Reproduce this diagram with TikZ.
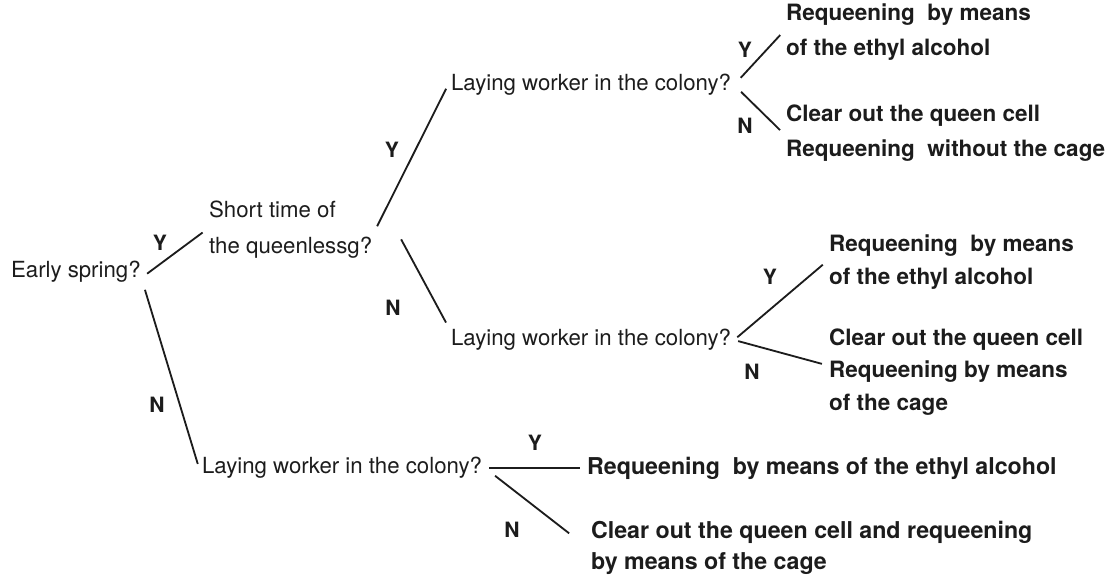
\documentclass[tikz,border=0pt]{standalone}
\usepackage{fontspec}
\setmainfont{TeX Gyre Heros}
\usetikzlibrary{positioning}

\definecolor{ink}{HTML}{1C1C1C}

\tikzset{
  ask/.style={anchor=west, inner sep=2pt, text=ink, align=left, font=\fontsize{15.8}{25.5}\selectfont},
  act/.style={anchor=west, inner sep=2pt, text=ink, align=left, font=\bfseries\fontsize{16}{23}\selectfont},
  act wide/.style={act, font=\bfseries\fontsize{16}{24.5}\selectfont},
  act low/.style={act, font=\bfseries\fontsize{16.5}{22.5}\selectfont},
  yn/.style={text=ink, font=\bfseries\fontsize{15}{18}\selectfont},
  branch/.style={draw=ink, line width=1.3pt, shorten <=3pt, shorten >=3pt}
}

\begin{document}
\begin{tikzpicture}[x=0.025cm, y=-0.025cm]
            \useasboundingbox (0,0) rectangle (1108,576);

            % questions
            \node[ask] (spring) at (8,272) {Early spring?};
            \node[ask] (short) at (206,230) {Short time of\\the queenlessg?};
            \node[ask] (lay1) at (448,85) {Laying worker in the colony?};
            \node[ask] (lay2) at (448,340) {Laying worker in the colony?};
            \node[ask] (lay3) at (199,468) {Laying worker in the colony?};

            % what to do
            \node[act wide] (out1) at (783,32) {Requeening\ \ by means\\of the ethyl alcohol};
            \node[act wide] (out2) at (783,133) {Clear out the queen cell\\Requeening\ \ without the cage};
            \node[act] (out3) at (826,262) {Requeening\ \ by means\\of the ethyl alcohol};
            \node[act] (out4) at (826,372) {Clear out the queen cell\\Requeening by means\\of the cage};
            \node[act low] (out5) at (584,468) {Requeening\ \ by means of the ethyl alcohol};
            \node[act low] (out6) at (588,548) {Clear out the queen cell and requeening\\by means of the cage};

            \draw[branch] ([yshift=-3pt]spring.east) -- (short.west);
            \draw[branch] (spring.south east) -- (lay3.west);
            \draw[branch] (short.east) -- (lay1.west);
            \draw[branch] ([xshift=17pt, yshift=-4pt]short.east) -- (lay2.north west);
            \draw[branch, shorten <=7pt] (lay1.east) -- (out1.west);
            \draw[branch, shorten <=7pt] (lay1.east) -- (out2.west);
            \draw[branch] (lay2.east) -- (out3.west);
            \draw[branch] (lay2.east) -- ([yshift=5pt]out4.west);
            \draw[branch] (lay3.east) -- (out5.west);
            \draw[branch, shorten <=9pt, shorten >=17pt] (lay3.east) -- (out6.west);

            % Y / N
            \node[yn] (y1) at (160,243) {Y};
            \node[yn] (n1) at (157,405) {N};
            \node[yn] (y2) at (392,150) {Y};
            \node[yn] (n2) at (393,308) {N};
            \node[yn] (y3) at (745,50) {Y};
            \node[yn] (n3) at (745,126) {N};
            \node[yn] (y4) at (770,277) {Y};
            \node[yn] (n4) at (752,372) {N};
            \node[yn] (y5) at (535,443) {Y};
            \node[yn] (n5) at (512,530) {N};
\end{tikzpicture}
\end{document}
